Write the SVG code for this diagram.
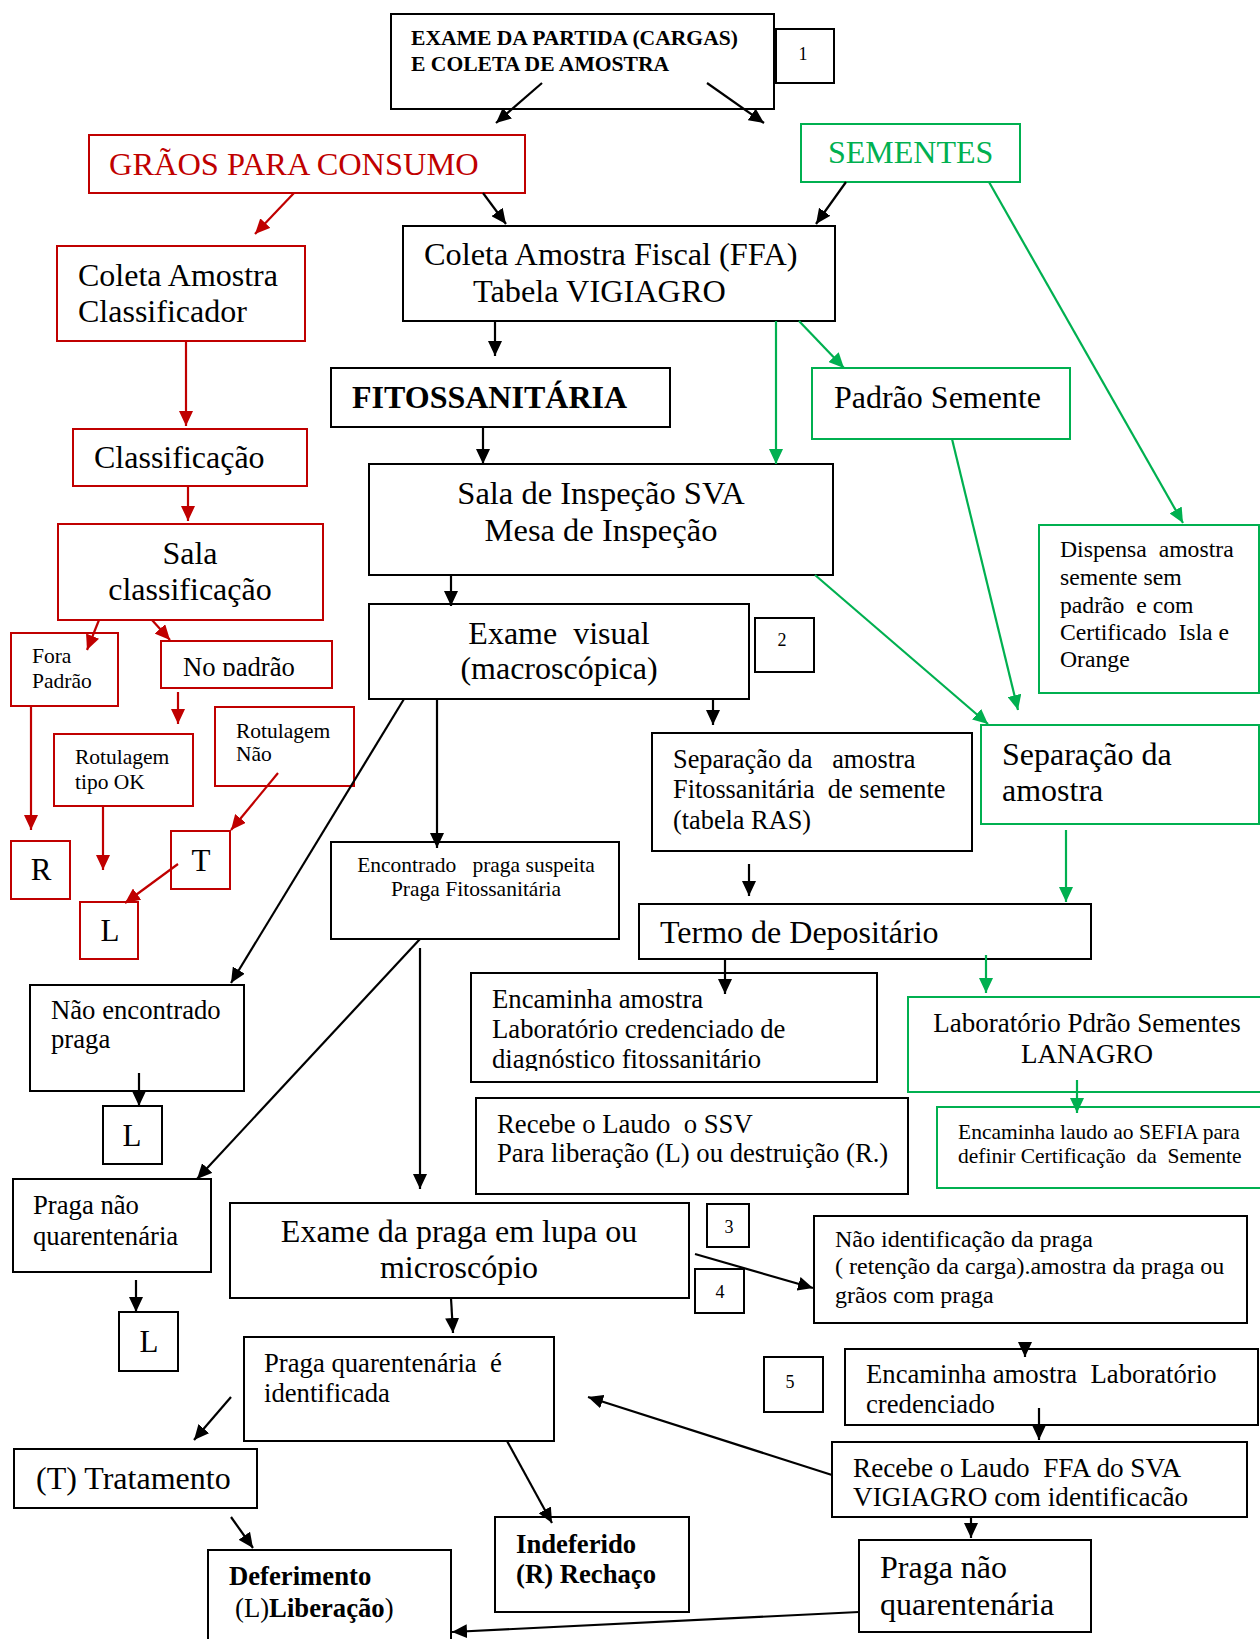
<svg xmlns="http://www.w3.org/2000/svg" width="1260" height="1639" viewBox="0 0 1260 1639">
<style>
text{font-family:"Liberation Serif","Times New Roman",serif;fill:#000}
.b{fill:#fff;stroke:#000;stroke-width:2}
.r{fill:#fff;stroke:#C00000;stroke-width:2}
.g{fill:#fff;stroke:#00B050;stroke-width:2}
.f31{font-size:32px}.f26{font-size:26.7px}.f21{font-size:21.5px}.f24{font-size:24px}.f18{font-size:18px}
.bold{font-weight:bold}.mid{text-anchor:middle}
.cb{stroke:#000;stroke-width:2.2;fill:none;marker-end:url(#ab)}
.cr{stroke:#C00000;stroke-width:2.2;fill:none;marker-end:url(#ar)}
.cg{stroke:#00B050;stroke-width:2.2;fill:none;marker-end:url(#ag)}
</style>
<defs>
<marker id="ab" markerUnits="userSpaceOnUse" markerWidth="16" markerHeight="14" refX="15" refY="7" orient="auto"><path d="M0,0 L15,7 L0,14 z" fill="#000"/></marker>
<marker id="ar" markerUnits="userSpaceOnUse" markerWidth="16" markerHeight="14" refX="15" refY="7" orient="auto"><path d="M0,0 L15,7 L0,14 z" fill="#C00000"/></marker>
<marker id="ag" markerUnits="userSpaceOnUse" markerWidth="16" markerHeight="14" refX="15" refY="7" orient="auto"><path d="M0,0 L15,7 L0,14 z" fill="#00B050"/></marker>
<clipPath id="clipNo"><rect x="161" y="641" width="171" height="35"/></clipPath>
<clipPath id="clipDiag"><rect x="471" y="973" width="406" height="98"/></clipPath>
</defs>
<rect width="1260" height="1639" fill="#fff"/>
<g id="nodes">
<g id="n-exame-partida"><rect class="b" x="391" y="14" width="383" height="95"/><text class="bold" font-size="21.6" x="411" y="45">EXAME DA PARTIDA (CARGAS)</text><text class="bold" font-size="21.6" x="411" y="71">E COLETA DE AMOSTRA</text></g>
<g id="n-1"><rect class="b" x="776" y="29" width="58" height="54"/><text class="f18 mid" x="803" y="60">1</text></g>
<g id="n-graos"><rect class="r" x="89" y="135" width="436" height="58"/><text font-size="32.4" x="109" y="175" style="fill:#C00000">GRÃOS PARA CONSUMO</text></g>
<g id="n-sementes"><rect class="g" x="801" y="124" width="219" height="58"/><text font-size="32" x="828" y="163" style="fill:#00B050">SEMENTES</text></g>
<g id="n-coleta-class"><rect class="r" x="57" y="246" width="248" height="95"/><text class="f31" x="78" y="286">Coleta Amostra</text><text class="f31" x="78" y="322">Classificador</text></g>
<g id="n-coleta-fiscal"><rect class="b" x="403" y="226" width="432" height="95"/><text font-size="32.3" x="424" y="265">Coleta Amostra Fiscal (FFA)</text><text font-size="32.3" x="473" y="302">Tabela VIGIAGRO</text></g>
<g id="n-fito"><rect class="b" x="331" y="368" width="339" height="59"/><text class="f31 bold" x="352" y="408">FITOSSANITÁRIA</text></g>
<g id="n-padrao-semente"><rect class="g" x="812" y="368" width="258" height="71"/><text class="f31" x="834" y="408">Padrão Semente</text></g>
<g id="n-classificacao"><rect class="r" x="73" y="429" width="234" height="57"/><text class="f31" x="94" y="468">Classificação</text></g>
<g id="n-sala-insp"><rect class="b" x="369" y="464" width="464" height="111"/><text font-size="32.5" class="mid" x="601" y="504">Sala de Inspeção SVA</text><text font-size="32.5" class="mid" x="601" y="541">Mesa de Inspeção</text></g>
<g id="n-sala-class"><rect class="r" x="58" y="524" width="265" height="96"/><text class="f31 mid" x="190" y="564">Sala</text><text class="f31 mid" x="190" y="600">classificação</text></g>
<g id="n-dispensa"><rect class="g" x="1039" y="525" width="220" height="168"/><text font-size="23.7" x="1060" y="557" xml:space="preserve">Dispensa  amostra</text><text font-size="23.7" x="1060" y="585">semente sem</text><text font-size="23.7" x="1060" y="613" xml:space="preserve">padrão  e com</text><text font-size="23.7" x="1060" y="640" xml:space="preserve">Certificado  Isla e</text><text font-size="23.7" x="1060" y="667">Orange</text></g>
<g id="n-exame-visual"><rect class="b" x="369" y="604" width="380" height="95"/><text class="f31 mid" x="559" y="644" xml:space="preserve">Exame  visual</text><text class="f31 mid" x="559" y="679">(macroscópica)</text></g>
<g id="n-2"><rect class="b" x="755" y="618" width="59" height="54"/><text class="f18 mid" x="782" y="646">2</text></g>
<g id="n-fora"><rect class="r" x="11" y="633" width="107" height="73"/><text class="f21" x="32" y="663">Fora</text><text class="f21" x="32" y="688">Padrão</text></g>
<g id="n-nopadrao"><rect class="r" x="161" y="641" width="171" height="47"/><text class="f26" x="183" y="676" clip-path="url(#clipNo)">No padrão</text></g>
<g id="n-rot-nao"><rect class="r" x="215" y="707" width="139" height="79"/><text class="f21" x="236" y="738">Rotulagem</text><text class="f21" x="236" y="761">Não</text></g>
<g id="n-rot-ok"><rect class="r" x="54" y="734" width="139" height="72"/><text class="f21" x="75" y="764">Rotulagem</text><text class="f21" x="75" y="789">tipo OK</text></g>
<g id="n-sep-fito"><rect class="b" x="652" y="733" width="320" height="118"/><text font-size="26.3" x="673" y="768" xml:space="preserve">Separação da   amostra</text><text font-size="26.3" x="673" y="798" xml:space="preserve">Fitossanitária  de semente</text><text font-size="26.3" x="673" y="829">(tabela RAS)</text></g>
<g id="n-sep-amostra"><rect class="g" x="981" y="725" width="278" height="99"/><text class="f31" x="1002" y="765">Separação da</text><text class="f31" x="1002" y="801">amostra</text></g>
<g id="n-R"><rect class="r" x="11" y="841" width="59" height="58"/><text font-size="31" class="mid" x="41" y="880">R</text></g>
<g id="n-T"><rect class="r" x="171" y="831" width="59" height="58"/><text font-size="31" class="mid" x="201" y="871">T</text></g>
<g id="n-L1"><rect class="r" x="80" y="902" width="58" height="57"/><text font-size="31" class="mid" x="110" y="941">L</text></g>
<g id="n-encontrado"><rect class="b" x="331" y="842" width="288" height="97"/><text class="f21 mid" x="476" y="872" xml:space="preserve">Encontrado   praga suspeita</text><text class="f21 mid" x="476" y="896">Praga Fitossanitária</text></g>
<g id="n-termo"><rect class="b" x="639" y="904" width="452" height="55"/><text class="f31" x="660" y="943">Termo de Depositário</text></g>
<g id="n-enc-lab-diag"><rect class="b" x="471" y="973" width="406" height="109"/><g clip-path="url(#clipDiag)"><text class="f26" x="492" y="1008">Encaminha amostra</text><text class="f26" x="492" y="1038">Laboratório credenciado de</text><text class="f26" x="492" y="1068">diagnóstico fitossanitário</text></g></g>
<g id="n-lab-sementes"><rect class="g" x="908" y="997" width="356" height="95"/><text font-size="27" class="mid" x="1087" y="1032">Laboratório Pdrão Sementes</text><text font-size="27" class="mid" x="1087" y="1063">LANAGRO</text></g>
<g id="n-nao-encontrado"><rect class="b" x="30" y="985" width="214" height="106"/><text class="f26" x="51" y="1019">Não encontrado</text><text class="f26" x="51" y="1048">praga</text></g>
<g id="n-L2"><rect class="b" x="103" y="1106" width="59" height="58"/><text font-size="31" class="mid" x="132" y="1146">L</text></g>
<g id="n-recebe-ssv"><rect class="b" x="476" y="1098" width="432" height="96"/><text class="f26" x="497" y="1133" xml:space="preserve">Recebe o Laudo  o SSV</text><text class="f26" x="497" y="1162">Para liberação (L) ou destruição (R.)</text></g>
<g id="n-enc-sefia"><rect class="g" x="937" y="1107" width="327" height="81"/><text class="f21" x="958" y="1139">Encaminha laudo ao SEFIA para</text><text class="f21" x="958" y="1163" xml:space="preserve">definir Certificação  da  Semente</text></g>
<g id="n-praga-nq-left"><rect class="b" x="13" y="1179" width="198" height="93"/><text class="f26" x="33" y="1214">Praga não</text><text class="f26" x="33" y="1245">quarentenária</text></g>
<g id="n-exame-praga"><rect class="b" x="230" y="1203" width="459" height="95"/><text class="f31 mid" x="459" y="1242">Exame da praga em lupa ou</text><text class="f31 mid" x="459" y="1278">microscópio</text></g>
<g id="n-3"><rect class="b" x="707" y="1204" width="42" height="43"/><text class="f18 mid" x="729" y="1233">3</text></g>
<g id="n-4"><rect class="b" x="695" y="1269" width="49" height="44"/><text class="f18 mid" x="720" y="1298">4</text></g>
<g id="n-nao-ident"><rect class="b" x="814" y="1216" width="433" height="107"/><text class="f24" x="835" y="1247">Não identificação da praga</text><text class="f24" x="835" y="1274">( retenção da carga).amostra da praga ou</text><text class="f24" x="835" y="1303">grãos com praga</text></g>
<g id="n-L3"><rect class="b" x="119" y="1312" width="59" height="59"/><text font-size="31" class="mid" x="149" y="1352">L</text></g>
<g id="n-praga-q"><rect class="b" x="244" y="1337" width="310" height="104"/><text class="f26" x="264" y="1372" xml:space="preserve">Praga quarentenária  é</text><text class="f26" x="264" y="1402">identificada</text></g>
<g id="n-5"><rect class="b" x="764" y="1357" width="59" height="55"/><text class="f18 mid" x="790" y="1388">5</text></g>
<g id="n-enc-lab-cred"><rect class="b" x="845" y="1349" width="413" height="76"/><text class="f26" x="866" y="1383" xml:space="preserve">Encaminha amostra  Laboratório</text><text class="f26" x="866" y="1413">credenciado</text></g>
<g id="n-recebe-ffa"><rect class="b" x="832" y="1442" width="415" height="75"/><text font-size="27.2" x="853" y="1477" xml:space="preserve">Recebe o Laudo  FFA do SVA</text><text font-size="27.2" x="853" y="1506">VIGIAGRO com identificacão</text></g>
<g id="n-tratamento"><rect class="b" x="14" y="1449" width="243" height="59"/><text class="f31" x="36" y="1489">(T) Tratamento</text></g>
<g id="n-indeferido"><rect class="b" x="495" y="1517" width="194" height="95"/><text class="f26 bold" x="516" y="1553">Indeferido</text><text class="f26 bold" x="516" y="1583">(R) Rechaço</text></g>
<g id="n-deferimento"><rect class="b" x="208" y="1550" width="243" height="100"/><text class="f26 bold" x="229" y="1585">Deferimento</text><text class="f26" x="235" y="1617">(L)<tspan font-weight="bold">Liberação</tspan>)</text></g>
<g id="n-praga-nq-right"><rect class="b" x="859" y="1540" width="232" height="92"/><text class="f31" x="880" y="1578">Praga não</text><text class="f31" x="880" y="1615">quarentenária</text></g>
</g>
<g id="connectors">
<line class="cb" x1="542" y1="83" x2="496" y2="123"/>
<line class="cb" x1="707" y1="83" x2="764" y2="123"/>
<line class="cb" x1="483" y1="193" x2="506" y2="224"/>
<line class="cb" x1="846" y1="182" x2="816" y2="224"/>
<line class="cb" x1="495" y1="321" x2="495" y2="356"/>
<line class="cb" x1="483" y1="427" x2="483" y2="464"/>
<line class="cb" x1="451" y1="575" x2="451" y2="606"/>
<line class="cb" x1="713" y1="699" x2="713" y2="725"/>
<line class="cb" x1="404" y1="699" x2="231" y2="983"/>
<line class="cb" x1="437" y1="699" x2="437" y2="848"/>
<line class="cb" x1="749" y1="864" x2="749" y2="896"/>
<line class="cb" x1="725" y1="959" x2="725" y2="994"/>
<line class="cb" x1="139" y1="1073" x2="139" y2="1106"/>
<line class="cb" x1="420" y1="939" x2="197" y2="1179"/>
<line class="cb" x1="420" y1="948" x2="420" y2="1189"/>
<line class="cb" x1="136" y1="1280" x2="136" y2="1312"/>
<line class="cb" x1="451" y1="1298" x2="453" y2="1333"/>
<line class="cb" x1="695" y1="1254" x2="813" y2="1288"/>
<line class="cb" x1="1025" y1="1342" x2="1025" y2="1357"/>
<line class="cb" x1="1039" y1="1408" x2="1039" y2="1440"/>
<line class="cb" x1="971" y1="1517" x2="971" y2="1538"/>
<line class="cb" x1="832" y1="1475" x2="588" y2="1397"/>
<line class="cb" x1="231" y1="1397" x2="194" y2="1440"/>
<line class="cb" x1="231" y1="1517" x2="253" y2="1548"/>
<line class="cb" x1="507" y1="1441" x2="552" y2="1523"/>
<line class="cb" x1="859" y1="1612" x2="452" y2="1632"/>
<line class="cr" x1="294" y1="193" x2="255" y2="234"/>
<line class="cr" x1="186" y1="341" x2="186" y2="426"/>
<line class="cr" x1="188" y1="486" x2="188" y2="521"/>
<line class="cr" x1="99" y1="620" x2="87" y2="650"/>
<line class="cr" x1="152" y1="620" x2="170" y2="640"/>
<line class="cr" x1="178" y1="692" x2="178" y2="724"/>
<line class="cr" x1="278" y1="773" x2="231" y2="830"/>
<line class="cr" x1="103" y1="805" x2="103" y2="870"/>
<line class="cr" x1="31" y1="706" x2="31" y2="830"/>
<line class="cr" x1="178" y1="864" x2="125" y2="903"/>
<line class="cg" x1="776" y1="321" x2="776" y2="464"/>
<line class="cg" x1="799" y1="321" x2="844" y2="368"/>
<line class="cg" x1="989" y1="182" x2="1183" y2="523"/>
<line class="cg" x1="952" y1="439" x2="1018" y2="710"/>
<line class="cg" x1="815" y1="575" x2="988" y2="724"/>
<line class="cg" x1="1066" y1="830" x2="1066" y2="902"/>
<line class="cg" x1="986" y1="955" x2="986" y2="993"/>
<line class="cg" x1="1077" y1="1080" x2="1077" y2="1113"/>
</g>
</svg>
